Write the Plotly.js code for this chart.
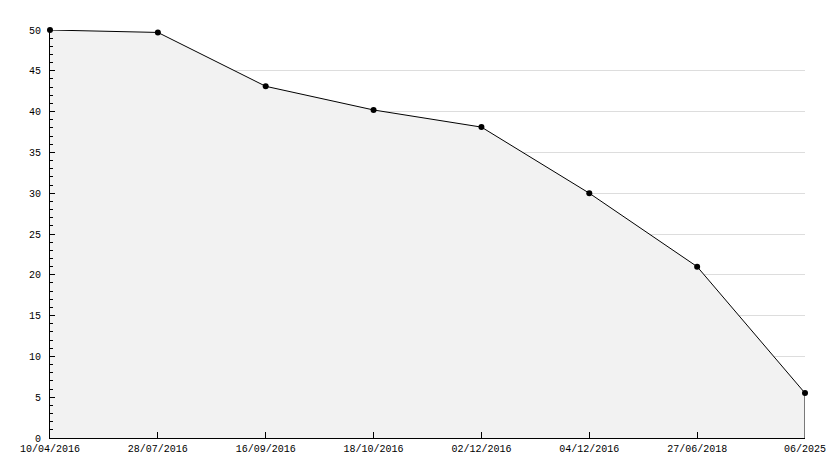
<!DOCTYPE html>
<html>
<head>
<meta charset="utf-8">
<script src="https://cdn.plot.ly/plotly-3.0.1.min.js"></script>
<style>html,body{margin:0;padding:0;background:#fff;}#chart{width:834px;height:468px;}</style>
</head>
<body>
<div id="chart"></div>
<script>
const dates = ["10/04/2016","28/07/2016","16/09/2016","18/10/2016","02/12/2016","04/12/2016","27/06/2018","06/2025"];
const values = [50, 49.7, 43.1, 40.2, 38.1, 30.0, 21.0, 5.5];

const lastX = dates[dates.length - 1];
const lastY = values[values.length - 1];

const traces = [
  {
    x: dates, y: values, type: 'scatter', mode: 'lines+markers',
    fill: 'tozeroy', fillcolor: '#f2f2f2',
    line: {color: '#000', width: 1},
    marker: {color: '#000', size: 6, symbol: 'circle'},
    cliponaxis: false,
    hoverinfo: 'x+y'
  },
  {
    x: [lastX, lastX], y: [0, lastY], type: 'scatter', mode: 'lines',
    line: {color: '#000', width: 1}, hoverinfo: 'skip'
  }
];

const FONT = 'Liberation Mono, monospace';

const layout = {
  width: 834, height: 468,
  margin: {l: 50, r: 29, t: 30, b: 30},
  paper_bgcolor: '#fff', plot_bgcolor: '#fff',
  showlegend: false,
  font: {family: FONT, size: 10, color: '#000'},
  xaxis: {
    type: 'category', categoryorder: 'array', categoryarray: dates,
    range: [0, dates.length - 1],
    showgrid: false, zeroline: false,
    showline: true, linecolor: '#000', linewidth: 1,
    ticks: 'inside', ticklen: 6, tickcolor: '#000',
    ticklabelstandoff: 1,
    tickfont: {family: FONT, size: 10, color: '#000'}
  },
  yaxis: {
    range: [0, 50], dtick: 5, tick0: 0,
    showgrid: true, gridcolor: '#dddddd', gridwidth: 1,
    zeroline: false,
    showline: true, linecolor: '#000', linewidth: 1,
    ticks: 'inside', ticklen: 5, tickcolor: '#000',
    ticklabelstandoff: 6,
    minor: {dtick: 1, ticks: 'inside', ticklen: 3, tickcolor: '#000', showgrid: false},
    tickfont: {family: FONT, size: 10, color: '#000'}
  }
};

Plotly.newPlot('chart', traces, layout, {displayModeBar: false, staticPlot: true});
</script>
</body>
</html>
